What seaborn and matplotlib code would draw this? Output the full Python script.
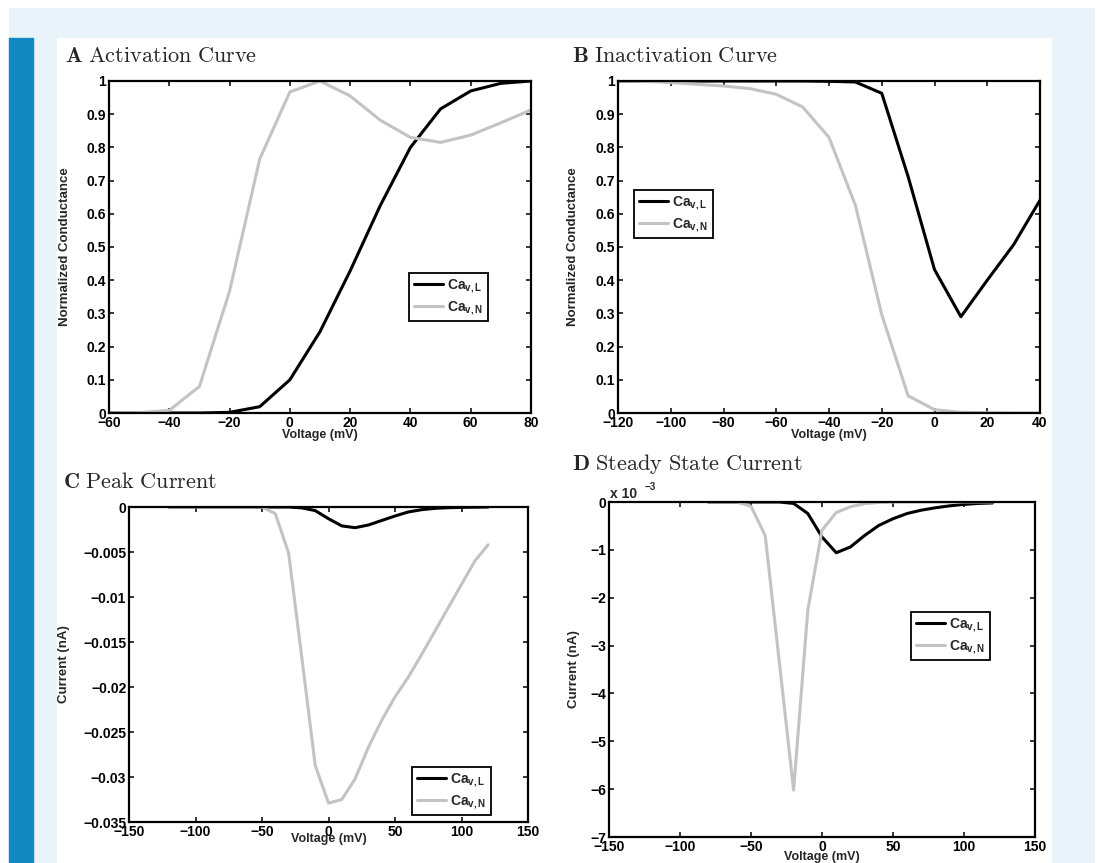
import numpy as np
import pandas as pd
import matplotlib
matplotlib.use("Agg")
import matplotlib.pyplot as plt
import seaborn as sns
from matplotlib.patches import Rectangle
from matplotlib.ticker import FuncFormatter, FixedLocator

# =========================================
# DATA
# =========================================
# A: activation curve
act_v = [-60, -50, -40, -30, -20, -10, 0, 10, 20, 30, 40, 50, 60, 70, 80]
act_L = [0, 0, 0, 0, 0.002, 0.019, 0.10, 0.245, 0.428, 0.625, 0.80, 0.916, 0.970, 0.993, 1.0]
act_N = [0, 0.001, 0.008, 0.08, 0.367, 0.765, 0.967, 1.0, 0.955, 0.882, 0.830, 0.815, 0.837, 0.874, 0.913]

# B: inactivation curve
inact_v = [-120, -110, -100, -90, -80, -70, -60, -50, -40, -30, -20, -10, 0, 10, 20, 30, 40]
inact_L = [1, 1, 1, 1, 1, 1, 1, 1, 0.999, 0.997, 0.963, 0.712, 0.432, 0.290, 0.400, 0.507, 0.641]
inact_N = [1.0, 0.999, 0.995, 0.990, 0.985, 0.977, 0.960, 0.922, 0.830, 0.626, 0.296, 0.052, 0.010, 0.002, 0.001, 0, 0]

# C: peak current (nA)
peak_v = [-120, -110, -100, -90, -80, -70, -60, -50, -40, -30, -20, -10, 0, 10, 20,
          30, 40, 50, 60, 70, 80, 90, 100, 110, 120]
peak_L = [0, 0, 0, 0, 0, 0, 0, 0, 0, 0, -0.0001, -0.0004, -0.0013, -0.0021, -0.0023,
          -0.0020, -0.0015, -0.0010, -0.00055, -0.0003, -0.00015, -0.00008, -0.00004, -0.00002, 0]
peak_N = [0, 0, 0, 0, 0, 0, 0, 0, -0.00074, -0.0051, -0.0168, -0.0287, -0.0329, -0.0325, -0.0302,
          -0.0267, -0.0237, -0.0211, -0.0189, -0.0164, -0.0138, -0.0112, -0.0086, -0.0060, -0.0042]

# D: steady state current (nA)
ss_v = [-80, -70, -60, -50, -40, -30, -20, -10, 0, 10, 20, 30, 40, 50, 60,
        70, 80, 90, 100, 110, 120]
ss_L = [0, 0, 0, 0, 0, 0, -0.00003, -0.00024, -0.00073, -0.00106, -0.00094, -0.00070, -0.00049,
        -0.00035, -0.00024, -0.00017, -0.00012, -0.00008, -0.00005, -0.00003, -0.00002]
ss_N = [0, 0, 0, -0.00009, -0.00070, -0.00336, -0.00602, -0.00226, -0.00059, -0.00022, -0.00010,
        -0.000035, -0.00001, 0, 0, 0, 0, 0, 0, 0, 0]

labels = [r"$\mathrm{Ca}_{\mathrm{v,L}}$", r"$\mathrm{Ca}_{\mathrm{v,N}}$"]

# =========================================
# STYLE
# =========================================
sns.set_theme(style="ticks")
plt.rcParams["font.family"] = ["Liberation Sans", "DejaVu Sans"]
plt.rcParams["font.weight"] = "bold"
plt.rcParams["mathtext.fontset"] = "custom"
plt.rcParams["mathtext.rm"] = "Liberation Sans:bold"
plt.rcParams["mathtext.it"] = "Liberation Sans:bold"
plt.rcParams["mathtext.bf"] = "Liberation Sans:bold"

W, H = 1097, 863
GRAY = "#c3c3c3"
fig = plt.figure(figsize=(W / 100, H / 100), dpi=100, facecolor="white")


def px_rect(x0, y0, x1, y1):
    return [x0 / W, 1 - y1 / H, (x1 - x0) / W, (y1 - y0) / H]


# page backdrop
for (x0, y0, x1, y1), c in [((9, 8, 1094, 863), "#e8f3fa"),
                            ((57, 38, 1051, 863), "white"),
                            ((9, 38, 33, 863), "#1389c1")]:
    fig.patches.append(Rectangle((x0 / W, 1 - y1 / H), (x1 - x0) / W, (y1 - y0) / H,
                                 transform=fig.transFigure, color=c, zorder=-10))


def fmt(v, pos):
    v = round(v, 8)
    if abs(v) < 1e-12:
        v = 0
    return f"{v:g}".replace("-", "\u2212")


def fmt_milli(v, pos):
    return fmt(v * 1e3, pos)


def panel(rect, x, yL, yN, xlim, ylim, xticks, yticks, ylabel, ylab_x, xlab_y, leg_xy,
          yfmt=fmt):
    ax = fig.add_axes(px_rect(*rect))
    sns.lineplot(x=x, y=yL, color="black", linewidth=2.2, label=labels[0], ax=ax, estimator=None)
    sns.lineplot(x=x, y=yN, color=GRAY, linewidth=2.2, label=labels[1], ax=ax, estimator=None)
    ax.set_xlim(*xlim)
    ax.set_ylim(*ylim)
    ax.xaxis.set_major_locator(FixedLocator(xticks))
    ax.yaxis.set_major_locator(FixedLocator(yticks))
    ax.xaxis.set_major_formatter(FuncFormatter(fmt))
    ax.yaxis.set_major_formatter(FuncFormatter(yfmt))
    ax.tick_params(direction="in", top=True, right=True, length=3.5, width=1.1,
                   labelsize=10, pad=2, colors="black")
    for s in ax.spines.values():
        s.set_linewidth(1.6)
        s.set_color("black")
    ax.set_xlabel("Voltage (mV)", fontsize=9, fontweight="bold")
    ax.set_ylabel(ylabel, fontsize=9.5, fontweight="bold")
    ax.yaxis.set_label_coords(ylab_x, 0.5)
    ax.xaxis.set_label_coords(0.5, xlab_y)
    leg = ax.legend(loc="upper left", bbox_to_anchor=leg_xy, borderaxespad=0, fancybox=False,
                    framealpha=1, edgecolor="black", fontsize=10, handlelength=2.1,
                    handletextpad=0.3, borderpad=0.35, labelspacing=0.3)
    leg.get_frame().set_linewidth(1.3)
    return ax


panel((109, 81, 531, 413), act_v, act_L, act_N, (-60, 80), (0, 1),
      list(range(-60, 81, 20)), list(np.round(np.arange(0, 1.01, 0.1), 1)),
      "Normalized Conductance", -0.09, -0.048, (0.711, 0.422))

panel((618, 81, 1040, 413), inact_v, inact_L, inact_N, (-120, 40), (0, 1),
      list(range(-120, 41, 20)), list(np.round(np.arange(0, 1.01, 0.1), 1)),
      "Normalized Conductance", -0.092, -0.048, (0.038, 0.672))

panel((129, 507, 528, 822), peak_v, peak_L, peak_N, (-150, 150), (-0.035, 0),
      list(range(-150, 151, 50)), list(np.round(np.arange(-0.035, 0.0001, 0.005), 3)),
      "Current (nA)", -0.148, -0.036, (0.709, 0.175))

axD = panel((609, 502, 1035, 837), ss_v, ss_L, ss_N, (-150, 150), (-0.007, 0),
            list(range(-150, 151, 50)), list(np.round(np.arange(-0.007, 0.00001, 0.001), 3)),
            "Current (nA)", -0.068, -0.042, (0.709, 0.672), yfmt=fmt_milli)

# offset text of panel D
fig.text(610 / W, 1 - 498 / H, "x 10", fontsize=10, fontweight="bold", va="baseline")
fig.text(645 / W, 1 - 490 / H, "\u22123", fontsize=7, fontweight="bold", va="baseline")

# panel titles
titles = [(65, 62, "A", "Activation Curve"),
          (572, 62, "B", "Inactivation Curve"),
          (63, 488, "C", "Peak Current"),
          (572, 470, "D", "Steady State Current")]
for x, y, letter, name in titles:
    fig.text(x / W, 1 - y / H, r"$\mathbf{%s}\ \mathrm{%s}$" % (letter, name.replace(" ", r"\ ")),
             fontsize=16, va="baseline", math_fontfamily="cm")

fig.savefig("out.png", dpi=100, facecolor="white")
